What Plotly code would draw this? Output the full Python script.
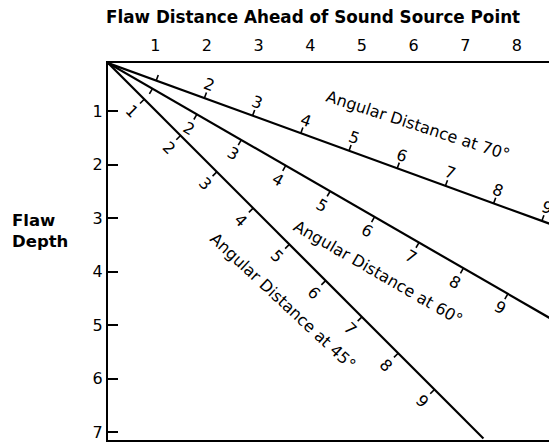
import math
import plotly.graph_objects as go

# ---------------- data ----------------
x_ticks = [1, 2, 3, 4, 5, 6, 7, 8]
y_ticks = [1, 2, 3, 4, 5, 6, 7]
angles = [70, 60, 45]                       # beam angles (deg from vertical)
line_lengths = [10.0, 10.0, 10.35]          # angular distance drawn
tick_distances = [1, 2, 3, 4, 5, 6, 7, 8, 9]
labeled_ticks = [[2, 3, 4, 5, 6, 7, 8, 9],
                 [2, 3, 4, 5, 6, 7, 8, 9],
                 [1, 2, 3, 4, 5, 6, 7, 8, 9]]
line_titles = ["Angular Distance at 70°",
               "Angular Distance at 60°",
               "Angular Distance at 45°"]
title_pos = [6.1, 6.6, 5.7]                 # angular distance of the title centre

# ---------------- layout geometry ----------------
W, H = 549, 445
ML, MR, MT, MB = 108, 0, 63, 5
X_RANGE = [0.085, 8.62]
Y_RANGE = [7.15, 0.1]
PX_X = (W - ML - MR) / (X_RANGE[1] - X_RANGE[0])
PX_Y = (H - MT - MB) / (Y_RANGE[0] - Y_RANGE[1])
U = 51.3                                    # pixels per unit of angular distance
X0, Y0 = X_RANGE[0], Y_RANGE[1]

FONT = "DejaVu Sans"
side_sign = [1, -1, -1]        # +1: marks/labels above-right, -1: below-left
label_off = [14, 16, 17]
title_off = [47, 47, 45]
text_angle = [18, 30, 43]
digit_angle = [20, 30, 45]
TICK_LEN = 6


def to_data(theta, d, off=0.0, side=1):
    t = math.radians(theta)
    nx, ny = side * math.cos(t), -side * math.sin(t)
    px = d * U * math.sin(t) + off * nx
    py = d * U * math.cos(t) + off * ny
    return X0 + px / PX_X, Y0 + py / PX_Y


fig = go.Figure()
annotations = []

for i, th in enumerate(angles):
    xa, ya = to_data(th, 0)
    xb, yb = to_data(th, line_lengths[i])
    fig.add_trace(go.Scatter(x=[xa, xb], y=[ya, yb], mode="lines",
                             line=dict(color="black", width=2.2),
                             hoverinfo="skip", showlegend=False))
    tx, ty = [], []
    for d in tick_distances:
        p1 = to_data(th, d)
        p2 = to_data(th, d, TICK_LEN, side_sign[i])
        tx += [p1[0], p2[0], None]
        ty += [p1[1], p2[1], None]
    fig.add_trace(go.Scatter(x=tx, y=ty, mode="lines",
                             line=dict(color="black", width=1.6),
                             hoverinfo="skip", showlegend=False))
    for d in labeled_ticks[i]:
        lx, ly = to_data(th, d, label_off[i], side_sign[i])
        annotations.append(dict(x=lx, y=ly, xref="x", yref="y", text=str(d),
                                showarrow=False, textangle=digit_angle[i],
                                xanchor="center", yanchor="middle",
                                font=dict(family=FONT, size=16, color="black")))
    cx, cy = to_data(th, title_pos[i], title_off[i], side_sign[i])
    annotations.append(dict(x=cx, y=cy, xref="x", yref="y", text=line_titles[i],
                            showarrow=False, textangle=text_angle[i],
                            xanchor="center", yanchor="middle",
                            font=dict(family=FONT, size=16, color="black")))

annotations.append(dict(x=(312.5 - ML) / (W - ML - MR), y=1, yshift=46,
                        xref="paper", yref="paper",
                        text="<b>Flaw Distance Ahead of Sound Source Point</b>",
                        showarrow=False, xanchor="center", yanchor="middle",
                        font=dict(family=FONT, size=16.8, color="black")))
annotations.append(dict(x=(10 - ML) / (W - ML - MR), y=1 - (231 - MT) / (H - MT - MB),
                        xref="paper", yref="paper",
                        text="<b>Flaw<br>Depth</b>", align="left",
                        showarrow=False, xanchor="left", yanchor="middle",
                        font=dict(family=FONT, size=16.5, color="black")))

fig.update_layout(
    width=W, height=H,
    margin=dict(l=ML, r=MR, t=MT, b=MB),
    paper_bgcolor="white", plot_bgcolor="white",
    annotations=annotations,
    xaxis=dict(side="top", range=X_RANGE, tickvals=x_ticks, ticks="",
               showline=True, linecolor="black", linewidth=2, mirror=True,
               showgrid=False, zeroline=False, ticklabelstandoff=4,
               tickfont=dict(family=FONT, size=16, color="black")),
    yaxis=dict(range=Y_RANGE, tickvals=y_ticks, ticks="inside", ticklen=10,
               tickwidth=2, tickcolor="black",
               showline=True, linecolor="black", linewidth=2, mirror=False,
               showgrid=False, zeroline=False,
               tickfont=dict(family=FONT, size=16, color="black")),
)

fig.write_html("out.html",
               config={"displayModeBar": False},
               post_script="document.body.style.margin='0';"
                           "document.body.style.overflow='hidden';")
